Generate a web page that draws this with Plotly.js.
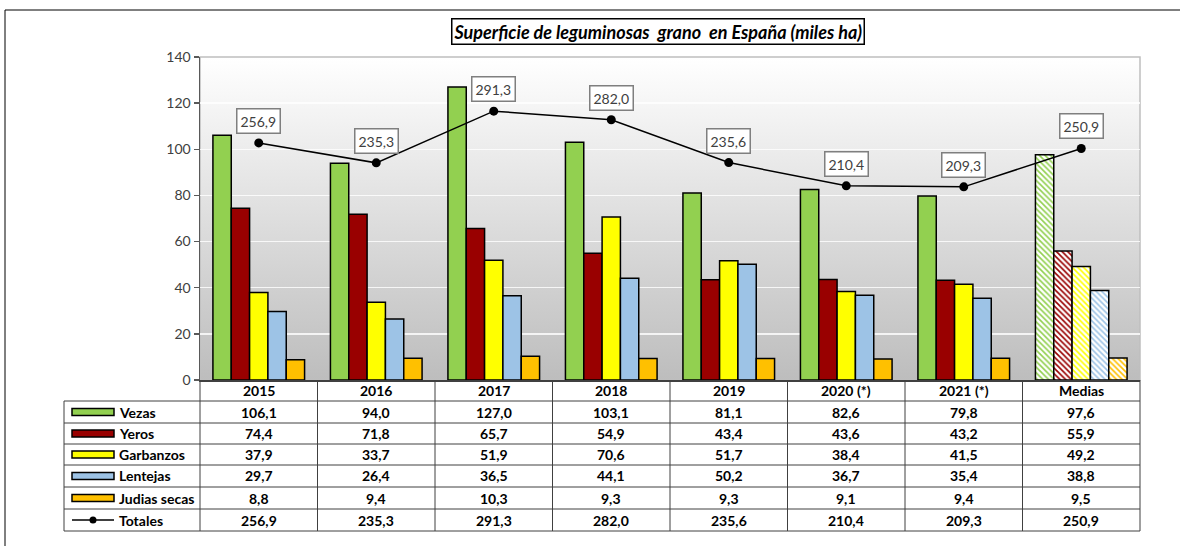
<!DOCTYPE html>
<html>
<head>
<meta charset="utf-8">
<script src="https://cdn.plot.ly/plotly-3.0.1.min.js"></script>
<style>html,body{margin:0;padding:0;background:#fff;}#chart{width:1180px;height:546px;}</style>
</head>
<body>
<div id="chart"></div>
<script>
const categories = ['2015','2016','2017','2018','2019','2020 (*)','2021 (*)','Medias'];
const seriesNames = ['Vezas','Yeros','Garbanzos','Lentejas','Judias secas'];
const vezas     = [106.1, 94.0, 127.0, 103.1, 81.1, 82.6, 79.8, 97.6];
const yeros     = [74.4, 71.8, 65.7, 54.9, 43.4, 43.6, 43.2, 55.9];
const garbanzos = [37.9, 33.7, 51.9, 70.6, 51.7, 38.4, 41.5, 49.2];
const lentejas  = [29.7, 26.4, 36.5, 44.1, 50.2, 36.7, 35.4, 38.8];
const judias    = [8.8, 9.4, 10.3, 9.3, 9.3, 9.1, 9.4, 9.5];
const totales   = [256.9, 235.3, 291.3, 282.0, 235.6, 210.4, 209.3, 250.9];
const totalName = 'Totales';
const yTicks = [0, 20, 40, 60, 80, 100, 120, 140];
const titleText = 'Superficie de leguminosas  grano  en España (miles ha)';

const seriesValues = [vezas, yeros, garbanzos, lentejas, judias];
const seriesColors = ['#92d050', '#990000', '#ffff00', '#9dc3e6', '#ffc000'];

const FONT = 'Lato, "Open Sans", "DejaVu Sans", sans-serif';
const W = 1180, H = 546;
const L = 200, R = 1140, T = 57, B = 380;
const px = v => (v - L) / (R - L);
const py = v => (B - v) / (B - T);
const fmt = v => v.toFixed(1).replace('.', ',');

const isMedia = categories.map(c => c === 'Medias');

const traces = seriesValues.map((vals, i) => ({
  type: 'bar',
  name: seriesNames[i],
  x: categories,
  y: vals,
  marker: {
    color: seriesColors[i],
    line: {color: '#000', width: 1.5},
    pattern: {
      shape: isMedia.map(m => m ? '\\' : ''),
      bgcolor: '#ffffff',
      size: 4,
      solidity: 0.4,
      fillmode: 'replace'
    }
  },
  hoverinfo: 'skip'
}));

traces.push({
  type: 'scatter',
  mode: 'lines+markers',
  name: totalName,
  x: categories,
  y: totales,
  yaxis: 'y2',
  line: {color: '#000', width: 1.5},
  marker: {color: '#000', size: 9},
  hoverinfo: 'skip'
});

const shapes = [];
const annotations = [];

// plot area border (top/right light gray)
shapes.push({type: 'rect', xref: 'paper', yref: 'paper', x0: 0, x1: 1, y0: 0, y1: 1,
  line: {color: '#bfbfbf', width: 1.5}, layer: 'below'});

// outer frame
shapes.push({type: 'rect', xref: 'paper', yref: 'paper', x0: px(5), x1: px(1200), y0: py(570), y1: py(10),
  line: {color: '#000', width: 1}, fillcolor: 'rgba(0,0,0,0)'});

// total labels
totales.forEach((t, i) => {
  annotations.push({
    xref: 'x', yref: 'y2', x: i, y: t, yshift: 22,
    text: fmt(t), showarrow: false,
    font: {family: FONT, size: 14, color: '#404040'},
    bgcolor: '#ffffff', bordercolor: '#7f7f7f', borderwidth: 1.5, borderpad: 3
  });
});

// title
annotations.push({
  xref: 'paper', yref: 'paper', x: px(657.5), y: py(31.5), xanchor: 'center', yanchor: 'middle',
  text: '<b><i>' + titleText + '</i></b>', showarrow: false,
  font: {family: FONT, size: 18, color: '#000'},
  bgcolor: '#ffffff', bordercolor: '#000', borderwidth: 1.5, borderpad: 1
});

// table geometry
const nCat = categories.length;
const colW = (R - L) / nCat;
const rowLines = [401, 423, 444, 465, 487, 509, 531];
const headerCenter = 390.5;
const rowCenters = rowLines.slice(0, -1).map((v, i) => (v + rowLines[i + 1]) / 2);
const tableLeft = 64;
const lineStyle = {color: '#404040', width: 1};
const cellFont = {family: FONT, size: 14, color: '#000'};

// vertical lines
for (let i = 0; i <= nCat; i++) {
  const xp = L + i * colW;
  shapes.push({type: 'line', xref: 'paper', yref: 'paper', x0: px(xp), x1: px(xp), y0: py(B), y1: py(531), line: lineStyle});
}
shapes.push({type: 'line', xref: 'paper', yref: 'paper', x0: px(tableLeft), x1: px(tableLeft), y0: py(401), y1: py(531), line: lineStyle});
// horizontal lines
rowLines.forEach(yv => {
  shapes.push({type: 'line', xref: 'paper', yref: 'paper', x0: px(tableLeft), x1: px(R), y0: py(yv), y1: py(yv), line: lineStyle});
});

// header
categories.forEach((c, i) => {
  annotations.push({xref: 'x', yref: 'paper', x: i, y: py(headerCenter), yanchor: 'middle',
    text: '<b>' + c + '</b>', showarrow: false, font: cellFont});
});

// rows
const allRows = seriesValues.concat([totales]);
const allNames = seriesNames.concat([totalName]);
allRows.forEach((vals, r) => {
  const yc = rowCenters[r];
  vals.forEach((v, i) => {
    annotations.push({xref: 'x', yref: 'paper', x: i, y: py(yc), yanchor: 'middle',
      text: '<b>' + fmt(v) + '</b>', showarrow: false, font: cellFont});
  });
  annotations.push({xref: 'paper', yref: 'paper', x: px(117), y: py(yc), xanchor: 'left', yanchor: 'middle',
    text: '<b>' + allNames[r] + '</b>', showarrow: false, font: cellFont});
  if (r < seriesValues.length) {
    shapes.push({type: 'rect', xref: 'paper', yref: 'paper', x0: px(72), x1: px(114), y0: py(yc + 3.5), y1: py(yc - 3.5),
      fillcolor: seriesColors[r], line: {color: '#000', width: 1.5}});
  } else {
    shapes.push({type: 'line', xref: 'paper', yref: 'paper', x0: px(72), x1: px(114), y0: py(yc), y1: py(yc),
      line: {color: '#000', width: 1.5}});
    shapes.push({type: 'circle', xref: 'paper', yref: 'paper', x0: px(89.5), x1: px(96.5), y0: py(yc + 3.5), y1: py(yc - 3.5),
      fillcolor: '#000', line: {color: '#000', width: 0}});
  }
});

const gradSvg = '<svg xmlns="http://www.w3.org/2000/svg" width="10" height="100" preserveAspectRatio="none">' +
  '<defs><linearGradient id="g" x1="0" y1="0" x2="0" y2="1">' +
  '<stop offset="0" stop-color="#ffffff"/><stop offset="1" stop-color="#bdbdbd"/></linearGradient></defs>' +
  '<rect width="10" height="100" fill="url(#g)"/></svg>';

const layout = {
  width: W, height: H,
  margin: {l: L, r: W - R, t: T, b: H - B},
  paper_bgcolor: '#ffffff',
  plot_bgcolor: 'rgba(0,0,0,0)',
  showlegend: false,
  barmode: 'group',
  bargap: 0.22,
  bargroupgap: 0,
  font: {family: FONT},
  xaxis: {
    type: 'category', categoryarray: categories, range: [-0.5, nCat - 0.5],
    showticklabels: false, ticks: '', showgrid: false, zeroline: false,
    showline: true, linecolor: '#404040', linewidth: 1.5, fixedrange: true
  },
  yaxis: {
    range: [0, 140], tickvals: yTicks, ticktext: yTicks.map(String),
    showline: true, linecolor: '#595959', linewidth: 1.5,
    ticks: 'outside', ticklen: 5, tickcolor: '#595959', tickwidth: 1.5,
    tickfont: {family: FONT, size: 14, color: '#404040'},
    showgrid: true, gridcolor: 'rgba(255,255,255,0.8)', gridwidth: 1.5,
    zeroline: false, fixedrange: true
  },
  yaxis2: {
    overlaying: 'y', range: [0, 350], visible: false, fixedrange: true
  },
  images: [{
    source: 'data:image/svg+xml;charset=utf-8,' + encodeURIComponent(gradSvg),
    xref: 'paper', yref: 'paper', x: 0, y: 1, sizex: 1, sizey: 1,
    xanchor: 'left', yanchor: 'top', sizing: 'stretch', layer: 'below'
  }],
  shapes: shapes,
  annotations: annotations
};

Plotly.newPlot('chart', traces, layout, {displayModeBar: false, staticPlot: true});
</script>
</body>
</html>
